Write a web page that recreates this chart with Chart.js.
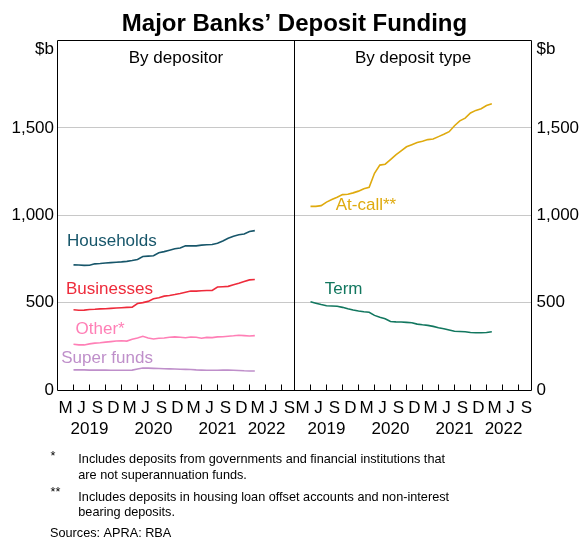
<!DOCTYPE html>
<html><head><meta charset="utf-8">
<script src="https://cdn.jsdelivr.net/npm/chart.js@4.4.1/dist/chart.umd.min.js"></script>
<style>html,body{margin:0;padding:0;background:#fff;}canvas{display:block;}</style>
</head><body>
<canvas id="c" width="579" height="539"></canvas>
<script>
// ---- data (month-end observations, $b) ----
const months = ['2019-03','2019-04','2019-05','2019-06','2019-07','2019-08','2019-09','2019-10','2019-11','2019-12',
 '2020-01','2020-02','2020-03','2020-04','2020-05','2020-06','2020-07','2020-08','2020-09','2020-10','2020-11','2020-12',
 '2021-01','2021-02','2021-03','2021-04','2021-05','2021-06','2021-07','2021-08','2021-09','2021-10','2021-11','2021-12',
 '2022-01'];
const households = [716,715,713,714,722,724,727,729,731,733,736,741,747,764,766,768,785,792,800,808,813,825,825,825,829,831,833,840,853,868,880,888,893,907,912];
const businesses = [459,456,457,461,462,464,465,467,469,471,473,474,495,500,507,522,528,537,541,546,552,559,566,566,568,569,570,589,591,593,602,611,621,630,632];
const other = [262,258,258,264,268,270,274,277,280,282,280,290,298,307,298,292,296,298,302,304,302,299,303,302,296,301,300,304,305,308,310,313,311,309,311];
const superFunds = [115,115,115,114,114,114,114,113,113,113,113,114,120,126,125,124,123,122,121,120,119,118,117,115,114,113,113,113,114,114,113,112,110,109,109];
const atCall = [1051,1051,1055,1075,1090,1103,1118,1120,1128,1138,1152,1160,1240,1287,1292,1318,1345,1368,1392,1404,1416,1424,1433,1436,1450,1463,1478,1512,1540,1556,1585,1600,1610,1628,1638];
const term = [505,497,489,482,481,479,473,465,458,452,448,445,427,416,408,392,390,389,387,385,377,373,370,364,356,350,343,336,335,333,329,328,328,329,333];

const quarterLabels = ['M','J','S','D','M','J','S','D','M','J','S','D','M','J','S'];
const yearLabels = ['2019','2020','2021','2022'];
const yearCentres = [6, 18, 30, 39.2];       // months since Jan 2019
const yTicks = [0, 500, 1000, 1500, 2000];
const panelTitles = ['By depositor', 'By deposit type'];

// ---- layout ----
const P = 44.44;                 // months shown per panel
const FONT = '"Liberation Sans", Arial, sans-serif';
const toM = s => { const [y, m] = s.split('-').map(Number); return (y - 2019) * 12 + m; };
const pts = (vals, off) => vals.map((v, i) => ({x: toM(months[i]) + off, y: v}));

const C = {hh:'#17566a', bus:'#ee2b3b', oth:'#ff7fb6', sup:'#bf8fca', at:'#dfaa0e', term:'#12775f'};

const series = [
  {label:'Households', data:pts(households,0), color:C.hh, lab:[10.2, 849]},
  {label:'Businesses', data:pts(businesses,0), color:C.bus, lab:[9.75, 578]},
  {label:'Other*', data:pts(other,0), color:C.oth, lab:[8.0, 347]},
  {label:'Super funds', data:pts(superFunds,0), color:C.sup, lab:[9.3, 181]},
  {label:'At-call**', data:pts(atCall,P), color:C.at, lab:[P+13.4, 1059]},
  {label:'Term', data:pts(term,P), color:C.term, lab:[P+9.2, 578]},
];

const qTicks = [];
for (const off of [0, P]) for (let q = 0; q < 15; q++) qTicks.push(off + 1.5 + 3*q);
const yrTicks = [];
for (const off of [0, P]) for (const c of yearCentres) yrTicks.push(off + c);

const deco = {
  id: 'deco',
  afterDraw(chart) {
    const {ctx, chartArea: a, scales: {x, y}} = chart;
    ctx.save();
    const L = Math.floor(a.left) + 0.5, R = Math.floor(a.right) + 0.5;
    const T = Math.floor(a.top) + 0.5, B = Math.floor(a.bottom) + 0.5;
    ctx.strokeStyle = '#000'; ctx.lineWidth = 1;
    ctx.beginPath();
    ctx.rect(L, T, R - L, B - T);
    const dv = Math.floor(x.getPixelForValue(P)) + 0.5;
    ctx.moveTo(dv, T); ctx.lineTo(dv, B);
    for (const off of [0, P]) for (let t = 3; t <= 42; t += 3) {
      const px = Math.floor(x.getPixelForValue(off + t)) + 0.5;
      ctx.moveTo(px, B); ctx.lineTo(px, B - 6);
    }
    ctx.stroke();

    ctx.fillStyle = '#000';
    ctx.font = '17px ' + FONT;
    ctx.textBaseline = 'middle';
    ctx.textAlign = 'right'; ctx.fillText('$b', a.left - 3.5, 49.5);
    ctx.textAlign = 'left'; ctx.fillText('$b', a.right + 5, 49.5);
    ctx.textAlign = 'center';
    ctx.textBaseline = 'alphabetic';
    ctx.fillText(panelTitles[0], x.getPixelForValue(P * 0.5), 63.3);
    ctx.fillText(panelTitles[1], x.getPixelForValue(P * 1.5), 63.3);

    ctx.textBaseline = 'middle';
    for (const s of series) {
      ctx.fillStyle = s.color;
      ctx.fillText(s.label, x.getPixelForValue(s.lab[0]), y.getPixelForValue(s.lab[1]));
    }

    ctx.fillStyle = '#000';
    ctx.textBaseline = 'alphabetic';
    ctx.font = 'bold 24px ' + FONT;
    ctx.fillText('Major Banks\u2019 Deposit Funding', x.getPixelForValue(P), 31);

    ctx.textAlign = 'left';
    ctx.font = '12.7px ' + FONT;
    ctx.fillText('*', 50.5, 460);
    ctx.fillText('Includes deposits from governments and financial institutions that', 78.3, 463.3);
    ctx.fillText('are not superannuation funds.', 78.3, 479);
    ctx.fillText('**', 50.5, 495.8);
    ctx.fillText('Includes deposits in housing loan offset accounts and non-interest', 78.3, 500.7);
    ctx.fillText('bearing deposits.', 78.3, 516.2);
    ctx.fillText('Sources: APRA: RBA', 50, 536.5);
    ctx.restore();
  }
};

const tickFont = {family: FONT, size: 17};

new Chart(document.getElementById('c'), {
  type: 'line',
  data: {
    datasets: series.map(s => ({
      label: s.label, data: s.data, borderColor: s.color, borderWidth: 1.6,
      pointRadius: 0, tension: 0, fill: false, xAxisID: 'x', yAxisID: 'y'
    }))
  },
  options: {
    responsive: false, animation: false, devicePixelRatio: 1,
    layout: {padding: {top: 40.5, left: 0, right: 0, bottom: 0}},
    plugins: {legend: {display: false}, tooltip: {enabled: false}, title: {display: false}},
    scales: {
      x: {
        type: 'linear', position: 'bottom', min: 0, max: 2 * P, weight: 0,
        grid: {display: false, drawTicks: false}, border: {display: false},
        afterBuildTicks: s => { s.ticks = qTicks.map(v => ({value: v})); },
        afterFit: s => { s.height = 28; },
        ticks: {autoSkip: false, maxRotation: 0, minRotation: 0, padding: 7.8, color: '#000', font: tickFont,
          callback: (v, i) => quarterLabels[i % 15]}
      },
      xYear: {
        type: 'linear', position: 'bottom', min: 0, max: 2 * P, weight: 1,
        grid: {display: false, drawTicks: false}, border: {display: false},
        afterBuildTicks: s => { s.ticks = yrTicks.map(v => ({value: v})); },
        afterFit: s => { s.height = 121; },
        ticks: {autoSkip: false, maxRotation: 0, minRotation: 0, padding: 1.1, color: '#000', font: tickFont,
          callback: (v, i) => yearLabels[i % 4]}
      },
      y: {
        type: 'linear', position: 'left', min: 0, max: 2000,
        afterBuildTicks: s => { s.ticks = yTicks.map(v => ({value: v})); },
        afterFit: s => { s.width = 57.5; },
        grid: {drawTicks: false, color: c => (c.tick && (c.tick.value === 0 || c.tick.value === 2000)) ? 'rgba(0,0,0,0)' : '#c8c8c8', lineWidth: 1},
        border: {display: false},
        ticks: {padding: 3.5, color: '#000', font: tickFont,
          callback: v => v === 2000 ? '' : v.toLocaleString('en-US')}
      },
      y2: {
        type: 'linear', position: 'right', min: 0, max: 2000,
        afterBuildTicks: s => { s.ticks = yTicks.map(v => ({value: v})); },
        afterFit: s => { s.width = 47.5; },
        grid: {display: false, drawTicks: false}, border: {display: false},
        ticks: {padding: 5, color: '#000', font: tickFont,
          callback: v => v === 2000 ? '' : v.toLocaleString('en-US')}
      }
    }
  },
  plugins: [deco]
});
</script>
</body></html>
